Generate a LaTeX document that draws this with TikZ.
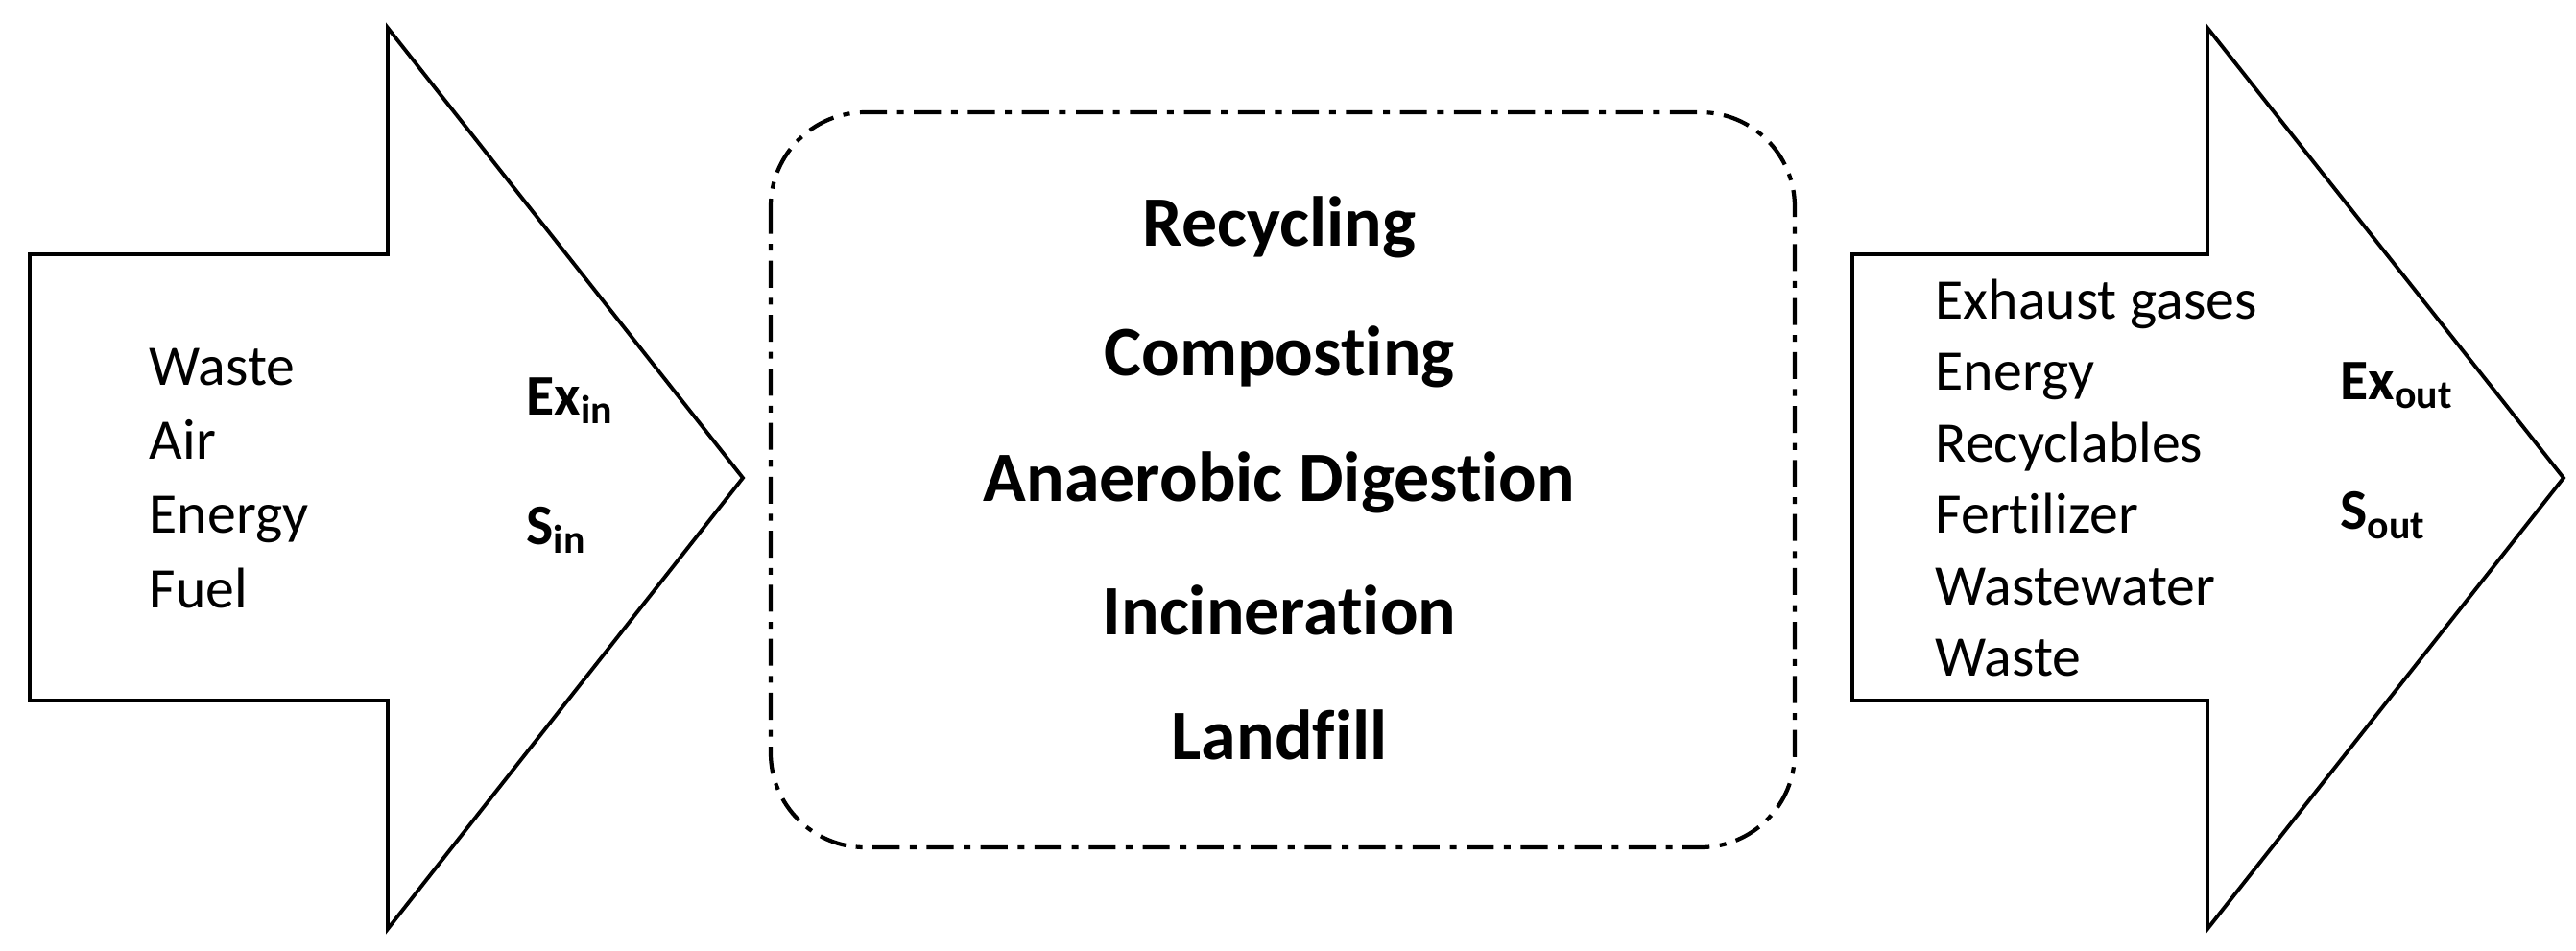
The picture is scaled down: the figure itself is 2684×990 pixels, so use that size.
\documentclass[tikz,border=0pt]{standalone}
\usepackage{fontspec}
\setmainfont[Ligatures={NoCommon}]{Carlito}
\usetikzlibrary{positioning}

\begin{document}
\begin{tikzpicture}[x=0.01cm, y=-0.01cm, every node/.style={font=\fontsize{17}{22}\selectfont}]
      \tikzset{
        flow/.style={draw=black, line width=1.1pt, fill=white, line join=miter},
        stage/.style={draw=black, line width=1.2pt, rounded corners=28pt, dash pattern=on 8pt off 3pt on 2pt off 3pt},
        list/.style={align=left, anchor=north west, inner sep=0pt},
        exergy/.style={font=\fontsize{17}{22}\selectfont\bfseries, anchor=west, inner sep=0pt},
        process/.style={font=\fontsize{21}{26}\selectfont\bfseries, inner sep=0pt}
      }
      \useasboundingbox (0,0) rectangle (2684,990);

      % Arrows
      \draw[flow] (31,265) -- (404,265) -- (404,29) -- (774,498) -- (404,968) -- (404,730) -- (31,730) -- cycle;
      \draw[flow] (1930,265) -- (2300,265) -- (2300,29) -- (2671,498) -- (2300,968) -- (2300,730) -- (1930,730) -- cycle;

      % Process box
      \draw[stage] (803,117) rectangle (1870,883);

      % Inputs
      \node[list] (inputs) at (155,362) {Waste\\Air\\Energy\\Fuel};
      \node[exergy] (exin) at (548,418) {Ex\textsubscript{in}};
      \node[exergy] (sin) at (548,552) {S\textsubscript{in}};

      % Processes
      \node[process] (recycling) at (1333,237) {Recycling};
      \node[process] (composting) at (1333,372) {Composting};
      \node[process] (digestion) at (1333,503) {Anaerobic Digestion};
      \node[process] (incineration) at (1333,636) {Incineration};
      \node[process] (landfill) at (1333,766) {Landfill};

      % Outputs
      \node[list, font=\fontsize{17}{21.2}\selectfont] (outputs) at (2016,290) {Exhaust gases\\Energy\\Recyclables\\Fertilizer\\Wastewater\\Waste};
      \node[exergy] (exout) at (2438,402) {Ex\textsubscript{out}};
      \node[exergy] (sout) at (2438,537) {S\textsubscript{out}};

    \end{tikzpicture}
\end{document}
